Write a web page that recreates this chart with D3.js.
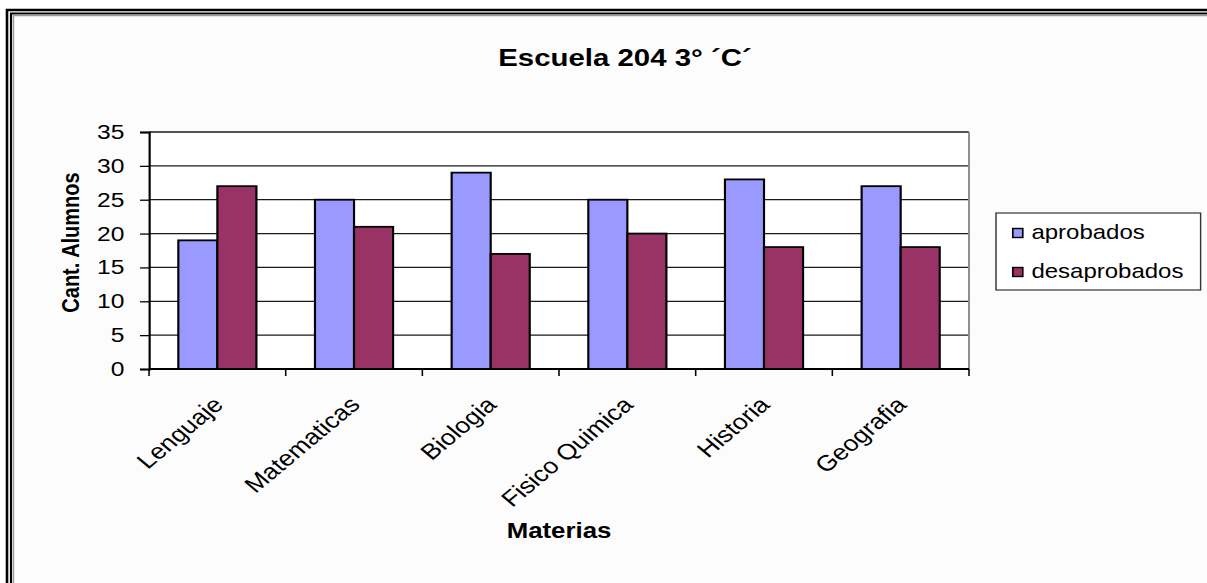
<!DOCTYPE html>
<html>
<head>
<meta charset="utf-8">
<script src="https://cdn.jsdelivr.net/npm/d3@7/dist/d3.min.js"></script>
<style>
  html, body { margin: 0; padding: 0; background: #ffffff; }
  svg { display: block; }
  text { font-family: "Liberation Sans", Arial, sans-serif; fill: #000; }
</style>
</head>
<body>
<svg id="chart" width="1207" height="583"></svg>
<script>
// Subjects and student counts per subject
const categories = ["Lenguaje", "Matematicas", "Biologia", "Fisico Quimica", "Historia", "Geografia"];
const seriesNames = ["aprobados", "desaprobados"];
const aprobados = [19, 25, 29, 25, 28, 27];
const desaprobados = [27, 21, 17, 20, 18, 18];
const yTicks = [0, 5, 10, 15, 20, 25, 30, 35];
const seriesColors = ["#9999FF", "#993366"];

const W = 1207, H = 583;
const sx = 1.2;                 // horizontal stretch of the chart drawing

const svg = d3.select("#chart");

// Window frame (double black line with grey inner shadow)
const frame = svg.append("g");
frame.append("rect").attr("x", 0).attr("y", 0).attr("width", W).attr("height", H).attr("fill", "#ffffff");
frame.append("rect").attr("x", 13).attr("y", 16).attr("width", W).attr("height", H).attr("fill", "#fcfcfc");
frame.append("path").attr("d", `M7,${H} V10 H${W}`).attr("fill", "none").attr("stroke", "#000").attr("stroke-width", 2.6);
frame.append("path").attr("d", `M11,${H} V13.5 H${W}`).attr("fill", "none").attr("stroke", "#000").attr("stroke-width", 2.2);
frame.append("path").attr("d", `M13.5,${H} V15.5 H${W}`).attr("fill", "none").attr("stroke", "#9a9a9a").attr("stroke-width", 1.4);

const g = svg.append("g").attr("transform", `scale(${sx},1)`);

const plot = { left: 124.2, right: 807.5, top: 132, bottom: 369 };

const x = d3.scaleBand().domain(categories).range([plot.left, plot.right]).padding(0);
const bw = x.bandwidth();
// Excel style gap width of 150%
const xs = d3.scaleBand().domain(seriesNames).range([bw * 0.75 / 3.5, bw * 2.75 / 3.5]).padding(0);
const y = d3.scaleLinear().domain([0, 35]).range([plot.bottom, plot.top]);

// Plot area
g.append("rect")
  .attr("x", plot.left).attr("y", plot.top)
  .attr("width", plot.right - plot.left).attr("height", plot.bottom - plot.top)
  .attr("fill", "#ffffff");

// Horizontal gridlines
g.append("g").selectAll("line").data(yTicks.filter(d => d > 0)).join("line")
  .attr("x1", plot.left).attr("x2", plot.right)
  .attr("y1", d => y(d)).attr("y2", d => y(d))
  .attr("stroke", "#1a1a1a").attr("stroke-width", 1.3);

// Right border of the plot area
g.append("line")
  .attr("x1", plot.right).attr("x2", plot.right)
  .attr("y1", plot.top).attr("y2", plot.bottom)
  .attr("stroke", "#8c8c8c").attr("stroke-width", 1.6);

// Bars
const rows = categories.map((c, i) => ({ cat: c, values: [aprobados[i], desaprobados[i]] }));
const groups = g.append("g").selectAll("g").data(rows).join("g")
  .attr("transform", d => `translate(${x(d.cat)},0)`);
groups.selectAll("rect").data(d => d.values.map((v, j) => ({ name: seriesNames[j], v, j }))).join("rect")
  .attr("x", d => xs(d.name))
  .attr("width", xs.bandwidth())
  .attr("y", d => y(d.v))
  .attr("height", d => y(0) - y(d.v))
  .attr("fill", d => seriesColors[d.j])
  .attr("stroke", "#000").attr("stroke-width", 1.8);

// Y axis
const yAxis = d3.axisLeft(y).tickValues(yTicks).tickSize(7.5).tickPadding(13);
const yg = g.append("g").attr("transform", `translate(${plot.left},0)`).call(yAxis);
yg.select(".domain").attr("stroke", "#000").attr("stroke-width", 1.8);
yg.selectAll(".tick line").attr("stroke", "#000").attr("stroke-width", 1.3);
yg.selectAll(".tick text").attr("font-size", 20.5).attr("font-family", "Liberation Sans, Arial, sans-serif").attr("fill", "#000");

// X axis: ticks at category boundaries
const xg = g.append("g");
xg.append("line")
  .attr("x1", plot.left).attr("x2", plot.right)
  .attr("y1", plot.bottom).attr("y2", plot.bottom)
  .attr("stroke", "#000").attr("stroke-width", 1.8);
const bounds = categories.map(c => x(c)).concat([plot.right]);
xg.selectAll("line.tk").data(bounds).join("line").attr("class", "tk")
  .attr("x1", d => d).attr("x2", d => d)
  .attr("y1", plot.bottom).attr("y2", plot.bottom + 7)
  .attr("stroke", "#000").attr("stroke-width", 1.3);
xg.selectAll("text").data(categories).join("text")
  .attr("transform", d => `translate(${x(d) + bw / 2 + 6},${plot.bottom + 37}) rotate(-45)`)
  .attr("text-anchor", "end")
  .attr("font-size", 22)
  .text(d => d);

// Titles
g.append("text")
  .attr("x", 520.8).attr("y", 66)
  .attr("text-anchor", "middle")
  .attr("font-size", 24.5).attr("font-weight", "bold")
  .text("Escuela 204 3° ´C´");

g.append("text")
  .attr("transform", `translate(66,${(plot.top + plot.bottom) / 2 - 8}) rotate(-90)`)
  .attr("text-anchor", "middle")
  .attr("font-size", 20).attr("font-weight", "bold")
  .text("Cant. Alumnos");

g.append("text")
  .attr("x", (plot.left + plot.right) / 2).attr("y", 538)
  .attr("text-anchor", "middle")
  .attr("font-size", 21.5).attr("font-weight", "bold")
  .text("Materias");

// Legend
const legend = g.append("g");
legend.append("rect")
  .attr("x", 830).attr("y", 213).attr("width", 170.5).attr("height", 77)
  .attr("fill", "#ffffff").attr("stroke", "#333").attr("stroke-width", 1.2);
const li = legend.selectAll("g").data(seriesNames).join("g")
  .attr("transform", (d, i) => `translate(844,${233 + i * 39})`);
li.append("rect")
  .attr("x", 0).attr("y", -4.5).attr("width", 8.3).attr("height", 9)
  .attr("fill", (d, i) => seriesColors[i]).attr("stroke", "#000").attr("stroke-width", 1.4);
li.append("text")
  .attr("x", 15.5).attr("y", 5.5)
  .attr("font-size", 20)
  .text(d => d);
</script>
</body>
</html>
